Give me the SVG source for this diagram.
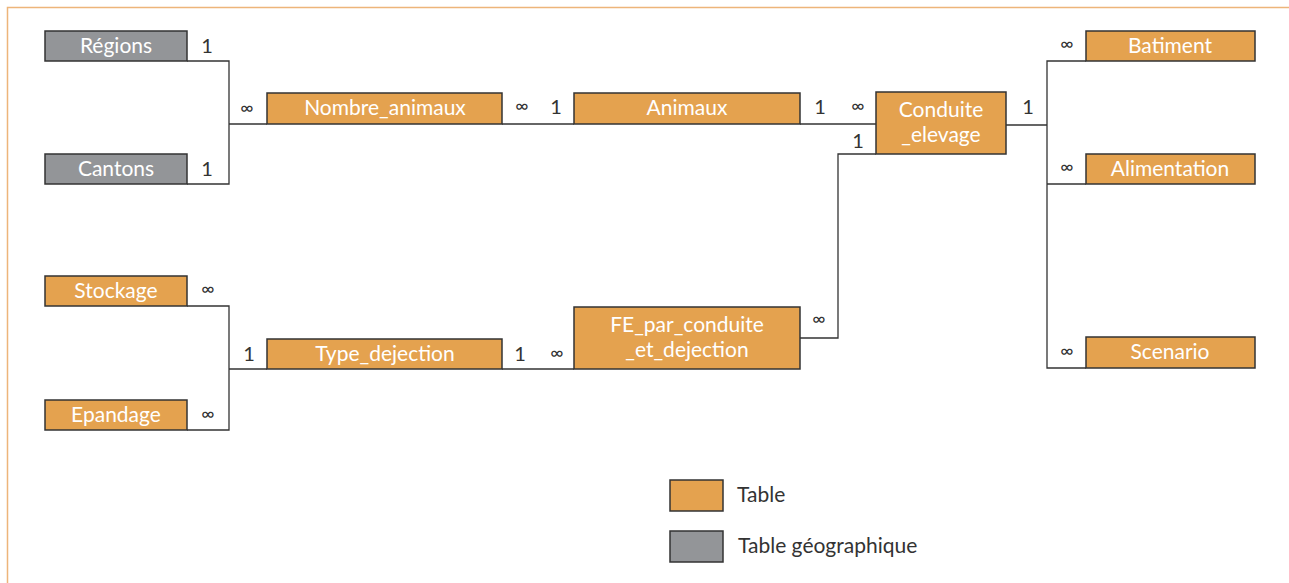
<svg xmlns="http://www.w3.org/2000/svg" width="1289" height="583" viewBox="0 0 1289 583">
<style>
.t{fill:#E4A24F;stroke:#333;stroke-width:1.5}
.g{fill:#939598;stroke:#333;stroke-width:1.5}
.lb{font-family:Lato,"Open Sans",sans-serif;font-size:21px;fill:#fff;text-anchor:middle}
.c{fill:none;stroke:#333;stroke-width:1.3}
.m{font-family:Lato,"Open Sans",sans-serif;font-size:20px;fill:#333;text-anchor:middle}
.i{font-family:Lato,"Open Sans",sans-serif;font-size:18px;fill:#333;text-anchor:middle}
.lg{font-family:Lato,"Open Sans",sans-serif;font-size:21px;fill:#333}
</style>
<rect x="0" y="0" width="1289" height="583" fill="#fff"/>
<path d="M7.5 590 V7.5 H1295" fill="none" stroke="#EDB57A" stroke-width="1.5"/>
<g id="connectors">
<path class="c" d="M187 61 H229 V184 H187 M229 124 H267"/>
<path class="c" d="M502 124 H574"/>
<path class="c" d="M800 124 H876"/>
<path class="c" d="M1006 125 H1047 M1086 61 H1047 V368 H1086 M1047 184 H1086"/>
<path class="c" d="M876 154 H838 V338 H800"/>
<path class="c" d="M187 306 H229 V430 H187 M229 369 H267"/>
<path class="c" d="M502 369 H574"/>
</g>
<g id="labels">
<text class="m" x="207" y="53">1</text>
<text class="m" x="207" y="176">1</text>
<text class="i" x="247" y="114">∞</text>
<text class="i" x="522" y="112">∞</text>
<text class="m" x="556" y="114">1</text>
<text class="m" x="820" y="114">1</text>
<text class="i" x="858" y="112">∞</text>
<text class="m" x="858" y="148">1</text>
<text class="m" x="1028" y="114">1</text>
<text class="i" x="1067" y="50">∞</text>
<text class="i" x="1067" y="173">∞</text>
<text class="i" x="1067" y="357">∞</text>
<text class="i" x="208" y="295">∞</text>
<text class="i" x="208" y="420">∞</text>
<text class="m" x="249" y="361">1</text>
<text class="m" x="520" y="361">1</text>
<text class="i" x="557" y="359">∞</text>
<text class="i" x="819" y="325">∞</text>
</g>
<g id="regions"><rect class="g" x="45" y="31" width="142" height="30"/><text class="lb" x="116" y="53">Régions</text></g>
<g id="cantons"><rect class="g" x="45" y="154" width="142" height="30"/><text class="lb" x="116" y="176">Cantons</text></g>
<g id="nombre_animaux"><rect class="t" x="267" y="93" width="235" height="31"/><text class="lb" x="385" y="115">Nombre_animaux</text></g>
<g id="animaux"><rect class="t" x="574" y="93" width="226" height="31"/><text class="lb" x="687" y="115">Animaux</text></g>
<g id="conduite_elevage"><rect class="t" x="876" y="92" width="130" height="62"/><text class="lb" x="941" y="117">Conduite</text><text class="lb" x="941" y="142">_elevage</text></g>
<g id="batiment"><rect class="t" x="1086" y="31" width="169" height="30"/><text class="lb" x="1170" y="53">Batiment</text></g>
<g id="alimentation"><rect class="t" x="1086" y="154" width="169" height="30"/><text class="lb" x="1170" y="176">Alimentation</text></g>
<g id="scenario"><rect class="t" x="1086" y="337" width="169" height="31"/><text class="lb" x="1170" y="359">Scenario</text></g>
<g id="stockage"><rect class="t" x="45" y="276" width="142" height="30"/><text class="lb" x="116" y="298">Stockage</text></g>
<g id="epandage"><rect class="t" x="45" y="400" width="142" height="30"/><text class="lb" x="116" y="422">Epandage</text></g>
<g id="type_dejection"><rect class="t" x="267" y="339" width="235" height="30"/><text class="lb" x="385" y="361">Type_dejection</text></g>
<g id="fe_par_conduite"><rect class="t" x="574" y="307" width="226" height="62"/><text class="lb" x="687" y="332">FE_par_conduite</text><text class="lb" x="687" y="357">_et_dejection</text></g>
<g id="legend">
<rect class="t" x="670" y="480" width="53" height="31"/><text class="lg" x="737" y="502">Table</text>
<rect class="g" x="670" y="531" width="53" height="31"/><text class="lg" x="738" y="553">Table géographique</text>
</g>
</svg>
